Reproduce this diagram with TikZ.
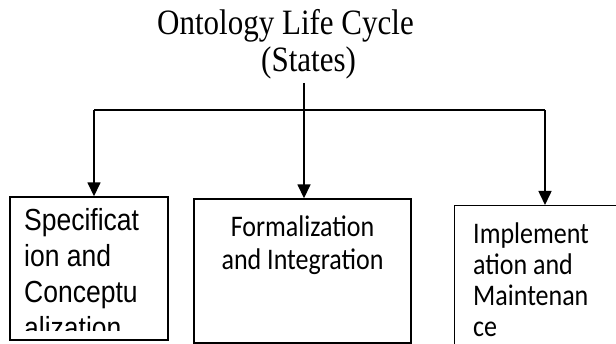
\documentclass[tikz,border=0pt]{standalone}
\usepackage{fontspec}
\setmainfont{Liberation Serif}
\newfontfamily\arialf{Liberation Sans}
\newfontfamily\calibrif{Carlito}
\usetikzlibrary{arrows.meta}
\newcommand{\tallx}[1]{\scalebox{1}[1.15]{#1}}
\setlength{\lineskiplimit}{-100pt}
\begin{document}
\begin{tikzpicture}[x=1pt,y=-1pt,
  conn/.style={line width=1.6pt},
  arr/.style={conn,-{Triangle[length=14pt,width=13pt]}},
  boxs/.style={draw,line width=1.4pt,inner sep=0pt},
  titlef/.style={inner sep=0pt,font=\fontsize{31}{36}\selectfont},
  boxtxtA/.style={inner sep=0pt,align=left,font=\arialf\fontsize{26.5}{36}\selectfont},
  boxtxtC/.style={inner sep=0pt,align=left,font=\calibrif\fontsize{26}{31}\selectfont}]
\useasboundingbox (0,0) rectangle (616,344);
\clip (0,0) rectangle (616,344);
% title
\node[titlef,anchor=base west] (t1) at (157,35) {\tallx{Ontology Life Cycle}};
\node[titlef,anchor=base west] (t2) at (261,72) {\tallx{(States)}};
% boxes
\node[boxs,minimum width=158pt,minimum height=143pt] (b1) at (89,268.5) {};
\node[boxs,minimum width=217pt,minimum height=144pt] (b2) at (302.5,271) {};
\node[boxs,anchor=north west,minimum width=200pt,minimum height=170pt] (b3) at (454,205) {};
% connectors
\coordinate (s) at (304,83);
\coordinate (j) at (304,110);
\coordinate (lc) at (94,110);
\coordinate (rc) at (545,110);
\draw[conn] (s) -- (j);
\draw[conn] (lc) -- (rc);
\draw[arr] (lc) -- (lc |- b1.north);
\draw[arr] (j) -- (j |- b2.north);
\draw[arr] (rc) -- (rc |- b3.north);
% box texts (base anchor = last line)
\begin{scope}
\clip (10,197) rectangle (168,331);
\node[boxtxtA,anchor=base west] (x1) at (24,339) {\tallx{Specificat}\\ \tallx{ion and}\\ \tallx{Conceptu}\\ \tallx{alization}};
\end{scope}
\node[boxtxtC,anchor=base] (x2a) at (b2.center |- 0,237) {\tallx{Formalization}};
\node[boxtxtC,anchor=base] (x2b) at (b2.center |- 0,270) {\tallx{and Integration}};
\node[boxtxtC,anchor=base west] (x3) at (473,337) {\tallx{Implement}\\ \tallx{ation and}\\ \tallx{Maintenan}\\ \tallx{ce}};
\end{tikzpicture}
\end{document}
